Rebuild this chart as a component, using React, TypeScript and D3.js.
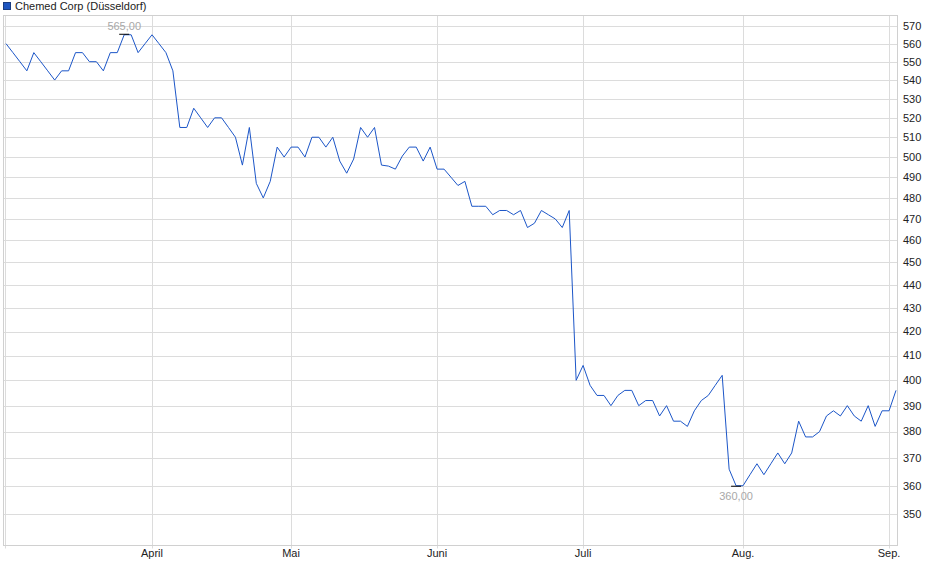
import * as d3 from "d3"

const title = "Chemed Corp (Düsseldorf)"

// one closing price per trading day, early March to early September
const closes = [
  560, 555, 550, 545, 555, 550, 545, 540, 545, 545,
  555, 555, 550, 550, 545, 555, 555, 565, 565, 555,
  560, 565, 560, 555, 545, 515, 515, 525, 520, 515,
  520, 520, 515, 510, 496, 515, 487, 480, 488, 505,
  500, 505, 505, 500, 510, 510, 505, 510, 498, 492,
  499, 515, 510, 515, 496, 495.5, 494, 500.5, 505, 505,
  498, 505, 494, 494, 490, 486, 488, 476, 476, 476,
  472, 474, 474, 472, 474, 466, 468, 474, 472, 470,
  466, 474, 400, 406, 398, 394, 394, 390, 394, 396,
  396, 390, 392, 392, 386, 390, 384, 384, 382, 388,
  392, 394, 398, 402, 366, 360, 360, 364, 368, 364,
  368, 372, 368, 372, 384, 378, 378, 380, 386, 388,
  386, 390, 386, 384, 390, 382, 388, 388, 396,
]

const monthLabels = ["April", "Mai", "Juni", "Juli", "Aug.", "Sep."]
const monthStartIndex = [21, 41, 62, 83, 106, 127]

const yTicks = [350, 360, 370, 380, 390, 400, 410, 420, 430, 440, 450, 460, 470, 480, 490, 500, 510, 520, 530, 540, 550, 560, 570]

const W = 940
const H = 579
const plot = { left: 3.5, right: 897.5, top: 15.5, bottom: 545.5 }
const font = "'Liberation Sans', Arial, sans-serif"
const gridColor = "#dcdcdc"
const lineColor = "#1c56c8"

const fmt = (v: number) => v.toFixed(2).replace(".", ",")

export default function App() {
  const x = d3.scaleLinear().domain([0, closes.length - 1]).range([6, 896])
  const y = d3.scaleLog().domain([339.3, 575.7]).range([545, 16])

  const line = d3
    .line<number>()
    .x((_, i) => x(i))
    .y((d) => y(d))

  const iMax = d3.maxIndex(closes)
  const iMin = d3.minIndex(closes)

  return (
    <svg
      width={W}
      height={H}
      style={{ position: "absolute", left: 0, top: 0, background: "#fff" }}
      fontFamily={font}
    >
      {/* legend */}
      <rect x={3.5} y={2.5} width={7} height={7} fill="#1d55c0" stroke="#1a3c80" />
      <text x={15} y={10} fontSize={11} fill="#222">
        {title}
      </text>

      {/* horizontal grid + right labels */}
      {yTicks.map((t) => (
        <g key={t}>
          <line
            x1={plot.left}
            x2={plot.right}
            y1={Math.round(y(t)) + 0.5}
            y2={Math.round(y(t)) + 0.5}
            stroke={gridColor}
          />
          <text x={903} y={y(t)} dy="0.35em" fontSize={11} fill="#222">
            {t}
          </text>
        </g>
      ))}

      {/* month grid + bottom labels */}
      {monthStartIndex.map((idx, k) => (
        <g key={monthLabels[k]}>
          <line
            x1={Math.round(x(idx)) + 0.5}
            x2={Math.round(x(idx)) + 0.5}
            y1={plot.top}
            y2={plot.bottom + 3}
            stroke={gridColor}
          />
          <text x={x(idx)} y={557} textAnchor="middle" fontSize={11} fill="#222">
            {monthLabels[k]}
          </text>
        </g>
      ))}

      {/* frame */}
      <line x1={5.5} x2={5.5} y1={plot.top} y2={plot.bottom + 3} stroke={gridColor} />
      <rect
        x={plot.left}
        y={plot.top}
        width={plot.right - plot.left}
        height={plot.bottom - plot.top}
        fill="none"
        stroke="#d0d0d0"
      />

      {/* price line */}
      <path d={line(closes) ?? ""} fill="none" stroke={lineColor} strokeWidth={1} />

      {/* high / low markers */}
      <line x1={x(iMax) - 5} x2={x(iMax) + 5} y1={y(closes[iMax]) - 0.5} y2={y(closes[iMax]) - 0.5} stroke="#000" />
      <text x={x(iMax)} y={y(closes[iMax]) - 5} textAnchor="middle" fontSize={11} fill="#a8a8a8">
        {fmt(closes[iMax])}
      </text>
      <line x1={x(iMin) - 5} x2={x(iMin) + 5} y1={y(closes[iMin]) + 0.5} y2={y(closes[iMin]) + 0.5} stroke="#000" />
      <text x={x(iMin)} y={y(closes[iMin]) + 14} textAnchor="middle" fontSize={11} fill="#a8a8a8">
        {fmt(closes[iMin])}
      </text>
    </svg>
  )
}
